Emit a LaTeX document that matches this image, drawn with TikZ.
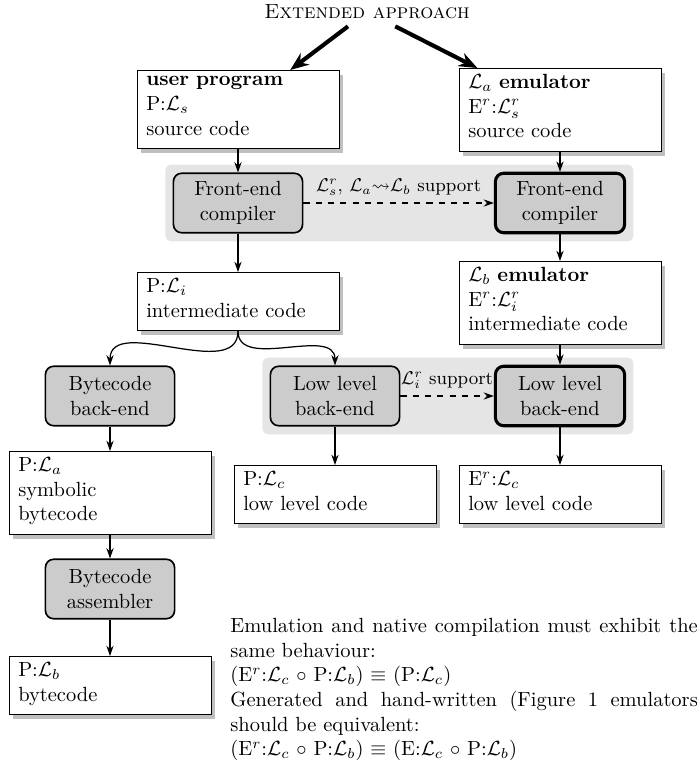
\documentclass[tikz,border=0pt]{standalone}
\usepackage{amssymb}
\usetikzlibrary{arrows.meta}
\usetikzlibrary{shadows}
\usetikzlibrary{fit}
\usetikzlibrary{backgrounds}

\tikzset{
  codebox/.style={draw, fill=white, drop shadow, text width=89.5pt, inner xsep=4.5pt, inner ysep=3pt, align=left, execute at end node=\strut},
  stage/.style={draw, thick, fill=black!20, rounded corners=4pt, minimum width=63pt, minimum height=29pt, align=center},
  ownstage/.style={stage, line width=1.5pt},
  band/.style={fill=black!10, rounded corners=3pt, inner sep=3.5pt},
  flow/.style={semithick, -{Stealth[length=5pt, width=3.5pt]}},
  support/.style={flow, dashed},
  entry/.style={line width=2pt, -{Stealth[length=9pt, width=7pt]}}
}

\begin{document}
\begin{tikzpicture}[x=0.4878pt, y=-0.4878pt]
    \useasboundingbox (0, 0) rectangle (696, 760);

    \node (title) at (367, 12) {\textsc{Extended approach}};

    % user program side and emulator side
    \node[codebox, anchor=north] (user) at (238, 70) {\textbf{user program}\\ P:$\mathcal{L}_s$\\ source code};
    \node[codebox, anchor=north] (emuA) at (560, 68) {$\mathcal{L}_a$ \textbf{emulator}\\ E$^r$:$\mathcal{L}_s^r$\\ source code};
    \draw[entry] (title) -- (user);
    \draw[entry] (title) -- (emuA);

    \node[stage] (feL) at (238, 203) {Front-end\\ compiler};
    \node[ownstage] (feR) at (560, 203) {Front-end\\ compiler};

    \node[codebox, anchor=north] (Pi) at (238, 272) {P:$\mathcal{L}_i$\\ intermediate code};
    \node[codebox, anchor=north] (emuB) at (560, 261) {$\mathcal{L}_b$ \textbf{emulator}\\ E$^r$:$\mathcal{L}_i^r$\\ intermediate code};

    \node[stage] (bcBack) at (110, 396) {Bytecode\\ back-end};
    \node[stage] (llL) at (335, 396) {Low level\\ back-end};
    \node[ownstage] (llR) at (560, 396) {Low level\\ back-end};

    \node[codebox, anchor=north] (Pa) at (110, 451) {P:$\mathcal{L}_a$\\ symbolic\\ bytecode};
    \node[codebox, anchor=north] (Pc) at (335, 465) {P:$\mathcal{L}_c$\\ low level code};
    \node[codebox, anchor=north] (Ec) at (560, 465) {E$^r$:$\mathcal{L}_c$\\ low level code};

    \node[stage] (bcAsm) at (110, 589) {Bytecode\\ assembler};
    \node[codebox, anchor=north] (Pb) at (110, 656) {P:$\mathcal{L}_b$\\ bytecode};

    % grey bands behind the compiler pairs
    \begin{scope}[on background layer]
      \node[band, fit=(feL)(feR)] (frontBand) {};
      \node[band, fit=(llL)(llR)] (backBand) {};
    \end{scope}

    \draw[flow] (user) -- (feL);
    \draw[flow] (emuA) -- (feR);
    \draw[support] (feL) -- (feR) node [midway, above, font=\small] {$\mathcal{L}_s^r$, $\mathcal{L}_a{\leadsto}\mathcal{L}_b$ support};
    \draw[flow] (feL) -- (Pi);
    \draw[flow] (feR) -- (emuB);
    \draw[flow] (Pi.south) to[out=-90, in=90] (bcBack.north);
    \draw[flow] (Pi.south) to[out=-90, in=90] (llL.north);
    \draw[flow] (emuB) -- (llR);
    \draw[support] (llL) -- (llR) node [midway, above, font=\small] {$\mathcal{L}_i^r$ support};
    \draw[flow] (bcBack) -- (Pa);
    \draw[flow] (llL) -- (Pc);
    \draw[flow] (llR) -- (Ec);
    \draw[flow] (Pa) -- (bcAsm);
    \draw[flow] (bcAsm) -- (Pb);

    \node[anchor=north west, text width=228pt, align=justify, inner sep=0pt] (claim) at (230, 618) {\baselineskip=10.7pt
      Emulation and native compilation must exhibit the same behaviour:\\
      (E$^r$:$\mathcal{L}_c$ $\circ$ P:$\mathcal{L}_b$) $\equiv$ (P:$\mathcal{L}_c$)\\
      Generated and hand-written (Figure 1 emulators should be equivalent:\\
      (E$^r$:$\mathcal{L}_c$ $\circ$ P:$\mathcal{L}_b$) $\equiv$ (E:$\mathcal{L}_c$ $\circ$ P:$\mathcal{L}_b$)};
\end{tikzpicture}
\end{document}
